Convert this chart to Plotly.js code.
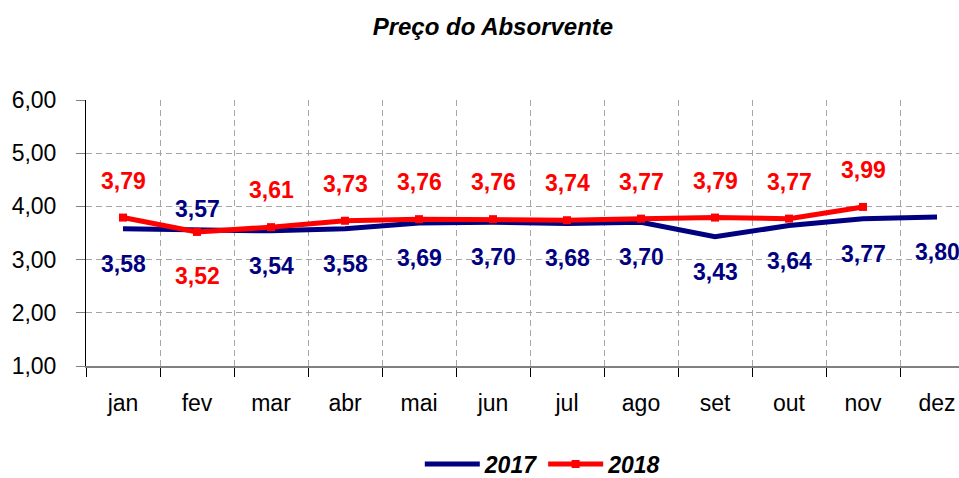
<!DOCTYPE html>
<html>
<head>
<meta charset="utf-8">
<script src="https://cdn.plot.ly/plotly-3.0.1.min.js"></script>
<style>html,body{margin:0;padding:0;background:#fff;}#chart{width:959px;height:478px;}</style>
</head>
<body>
<div id="chart"></div>
<script>
const months = ["jan","fev","mar","abr","mai","jun","jul","ago","set","out","nov","dez"];
const values2017 = [3.58,3.57,3.54,3.58,3.69,3.70,3.68,3.70,3.43,3.64,3.77,3.80];
const values2018 = [3.79,3.52,3.61,3.73,3.76,3.76,3.74,3.77,3.79,3.77,3.99,null];
const yTicks = [1,2,3,4,5,6];

const BLUE = "#000080", RED = "#FF0000";
const FONT = "Liberation Sans, Arial, sans-serif";

function fmt(v){ return v.toFixed(2).replace(".", ","); }

const annotations = [];
months.forEach((m, i) => {
  const a = values2017[i], b = values2018[i];
  const swapped = (b !== null && a > b);
  if (a !== null) {
    annotations.push({x: m, y: a, xref: "x", yref: "y", text: "<b>" + fmt(a) + "</b>",
      showarrow: false, yshift: swapped ? 20 : -35,
      font: {family: FONT, size: 23, color: BLUE}});
  }
  if (b !== null) {
    annotations.push({x: m, y: b, xref: "x", yref: "y", text: "<b>" + fmt(b) + "</b>",
      showarrow: false, yshift: swapped ? -44 : 37,
      font: {family: FONT, size: 23, color: RED}});
  }
});

const traces = [
  {x: months, y: values2017, name: "<b><i>2017</i></b>", type: "scatter", mode: "lines",
   line: {color: BLUE, width: 5}, hoverinfo: "skip"},
  {x: months, y: values2018, name: "<b><i>2018</i></b>", type: "scatter", mode: "lines+markers",
   line: {color: RED, width: 5}, marker: {symbol: "square", size: 8, color: RED},
   hoverinfo: "skip"}
];

const layout = {
  width: 959, height: 478,
  margin: {l: 86, r: 0, t: 100, b: 112, autoexpand: false},
  paper_bgcolor: "#fff", plot_bgcolor: "#fff",
  separators: ",.",
  showlegend: true,
  title: {text: "<b><i>Preço do Absorvente</i></b>", xref: "container", yref: "container",
    x: 0.514, xanchor: "center", y: 0.9435, yanchor: "middle",
    font: {family: FONT, size: 24, color: "#000"}},
  xaxis: {
    type: "category", categoryorder: "array", categoryarray: months,
    range: [-0.5, 11.297], fixedrange: true,
    tickson: "boundaries", ticks: "outside", ticklen: 9, tickcolor: "#000", tickwidth: 1,
    showline: true, linecolor: "#808080", linewidth: 2,
    showgrid: true, gridcolor: "#a6a6a6", gridwidth: 1, griddash: "6px,4px",
    tickfont: {family: FONT, size: 23, color: "#000"},
    ticklabelstandoff: 15,
    zeroline: false, automargin: false
  },
  yaxis: {
    range: [1, 6], tickvals: yTicks, tickformat: ".2f", fixedrange: true,
    ticks: "outside", ticklen: 9, tickcolor: "#808080", tickwidth: 1,
    showline: true, linecolor: "#000", linewidth: 1,
    showgrid: true, gridcolor: "#a6a6a6", gridwidth: 1, griddash: "6px,4px",
    tickfont: {family: FONT, size: 23, color: "#000"},
    ticklabelstandoff: 15,
    zeroline: false, automargin: false
  },
  legend: {orientation: "h", xref: "container", yref: "container",
    x: 0.566, xanchor: "center", y: 0.0293, yanchor: "middle",
    font: {family: FONT, size: 23, color: "#000"}, itemwidth: 55,
    bgcolor: "rgba(0,0,0,0)"},
  annotations: annotations
};

Plotly.newPlot("chart", traces, layout, {staticPlot: true, displayModeBar: false});
</script>
</body>
</html>
